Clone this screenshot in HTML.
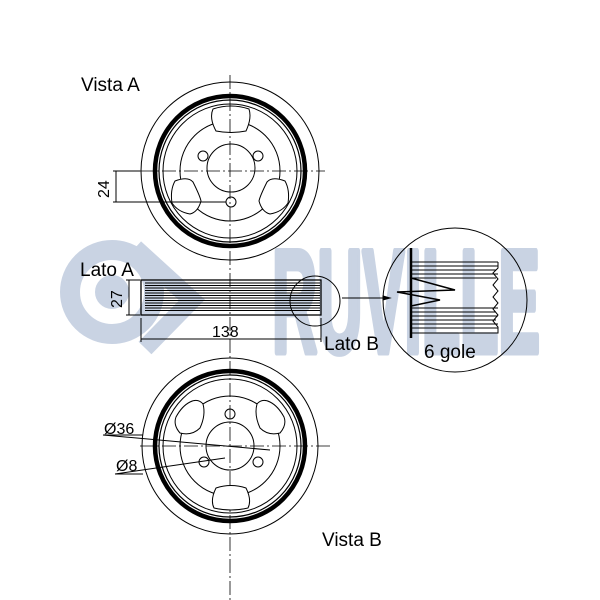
<!DOCTYPE html>
<html><head><meta charset="utf-8"><style>html,body{margin:0;padding:0;background:#fff}svg{display:block}</style></head>
<body>
<svg width="600" height="600" viewBox="0 0 600 600" xmlns="http://www.w3.org/2000/svg" font-family="Liberation Sans, sans-serif">
<!-- watermark -->
<g fill="#c9d3e3" stroke="#c9d3e3" stroke-width="7" stroke-linejoin="round">
<text x="272" y="352" font-size="146" font-weight="bold" textLength="268" lengthAdjust="spacingAndGlyphs">RUVILLE</text>
</g>
<g fill="none" stroke="#c9d3e3">
<circle cx="112" cy="292" r="42" stroke-width="20"/>
<circle cx="112" cy="292" r="16" fill="#c9d3e3" stroke-width="2"/>
<path d="M135 248 L192 300 L145 348" stroke-width="18"/>
</g>
<g stroke="#000" fill="none" stroke-width="1">
<!-- top pulley -->
<circle cx="230" cy="171" r="89"/>
<circle cx="230" cy="171" r="75" stroke-width="4.5"/>
<circle cx="230" cy="171" r="71" stroke-width="1.2"/>
<circle cx="230" cy="171" r="67"/>
<circle cx="230" cy="171" r="50"/>
<circle cx="231" cy="168" r="24" fill="#fff"/>
<circle cx="203" cy="156" r="5"/><circle cx="258" cy="156" r="5"/><circle cx="231" cy="202" r="5"/>
<path d="M213 109 Q231 103 249 109 Q252 118 246 131 Q231 134 216 131 Q209 118 213 109Z" fill="#fff"/>
<path d="M175 181 Q188 176 193 182 Q200 196 201 201 Q198 212 190 214 Q178 212 172 203 Q170 190 175 181Z" fill="#fff"/>
<path d="M285 181 Q272 176 267 182 Q260 196 259 201 Q262 212 270 214 Q282 212 288 203 Q290 190 285 181Z" fill="#fff"/>
<g stroke-dasharray="14 3 2 3" stroke-width="0.8">
<line x1="230" y1="75" x2="230" y2="600"/>
<line x1="140" y1="171" x2="325" y2="171"/>
</g>
<!-- dim 24 -->
<line x1="113" y1="171" x2="140" y2="171"/>
<line x1="113" y1="202" x2="226" y2="202"/>
<line x1="116" y1="171" x2="116" y2="202"/>
<!-- side view -->
<rect x="141" y="280" width="180" height="35" stroke-width="1.3"/>
<g stroke-width="1">
<line x1="145" y1="283" x2="320" y2="283"/><line x1="145" y1="285.5" x2="320" y2="285.5"/><line x1="145" y1="288" x2="320" y2="288"/><line x1="145" y1="290.5" x2="320" y2="290.5"/><line x1="145" y1="293" x2="320" y2="293"/><line x1="145" y1="295.5" x2="320" y2="295.5"/><line x1="145" y1="298" x2="320" y2="298"/><line x1="145" y1="300.5" x2="320" y2="300.5"/><line x1="145" y1="303" x2="320" y2="303"/><line x1="145" y1="305.5" x2="320" y2="305.5"/><line x1="145" y1="308" x2="320" y2="308"/><line x1="145" y1="310.5" x2="320" y2="310.5"/>
</g>
<circle cx="315" cy="301" r="25"/>
<line x1="342" y1="298" x2="383" y2="298"/>
<path d="M383 296 L390 298 L383 300Z" fill="#000"/>
<!-- dim 27 -->
<line x1="126" y1="280" x2="140" y2="280"/><line x1="126" y1="315" x2="140" y2="315"/>
<line x1="129" y1="280" x2="129" y2="315"/>
<!-- dim 138 -->
<line x1="141" y1="318" x2="141" y2="342"/><line x1="321" y1="318" x2="321" y2="342"/>
<line x1="141" y1="339" x2="321" y2="339"/>
<!-- detail circle -->
<circle cx="455" cy="300" r="72"/>
<line x1="411" y1="248" x2="411" y2="338" stroke-width="2.5"/>
<path d="M411 262 H498 M411 266 H498 M411 270 H496 M411 274 H498 M411 278 H496 M411 320 H496 M411 316 H498 M411 312 H496 M411 308 H498 M411 324 H498 M411 328 H498"/>
<path d="M498 262 V268 L493 273 L498 279 L493 285 L498 291 L493 297 L498 303 L493 309 L498 315 L493 321 L498 327 V333 H411"/>
<path d="M411 278 L455 290 L397 292 L440 300 L411 306" stroke-width="1.5"/>
<!-- bottom pulley -->
<circle cx="230" cy="446" r="88"/>
<circle cx="230" cy="446" r="75" stroke-width="4.5"/>
<circle cx="230" cy="446" r="71" stroke-width="1.2"/>
<circle cx="230" cy="446" r="67"/>
<circle cx="230" cy="446" r="50"/>
<circle cx="230" cy="446" r="24"/>
<circle cx="230" cy="414" r="5"/><circle cx="204" cy="462" r="5"/><circle cx="258" cy="462" r="5"/>
<path d="M216 488 Q231 483 246 488 Q252 500 248 508 Q231 512 214 508 Q210 500 216 488Z" fill="#fff"/>
<path d="M190 402 Q198 398 203 404 Q206 415 200 428 Q192 436 180 433 Q173 425 176 417 Q182 406 190 402Z" fill="#fff"/>
<path d="M270 402 Q262 398 257 404 Q254 415 260 428 Q268 436 280 433 Q287 425 284 417 Q278 406 270 402Z" fill="#fff"/>
<line x1="140" y1="446" x2="330" y2="446" stroke-dasharray="14 3 2 3" stroke-width="0.8"/>
<!-- Ø leaders -->
<line x1="103" y1="435" x2="143" y2="435"/>
<line x1="103" y1="435" x2="270" y2="450"/>
<line x1="115" y1="474" x2="143" y2="474"/>
<line x1="115" y1="474" x2="225" y2="458"/>
</g>
<g font-size="19" fill="#000">
<text x="81" y="91">Vista A</text>
<text x="80" y="276">Lato A</text>
<text x="324" y="350">Lato B</text>
<text x="424" y="358">6 gole</text>
<text x="322" y="546">Vista B</text>
<text x="212" y="337" font-size="16">138</text>
<text x="104" y="434" font-size="16">Ø36</text>
<text x="116" y="471" font-size="16">Ø8</text>
<text transform="translate(109,198) rotate(-90)" font-size="16">24</text>
<text transform="translate(122,308) rotate(-90)" font-size="16">27</text>
</g>
</svg>
</body></html>
